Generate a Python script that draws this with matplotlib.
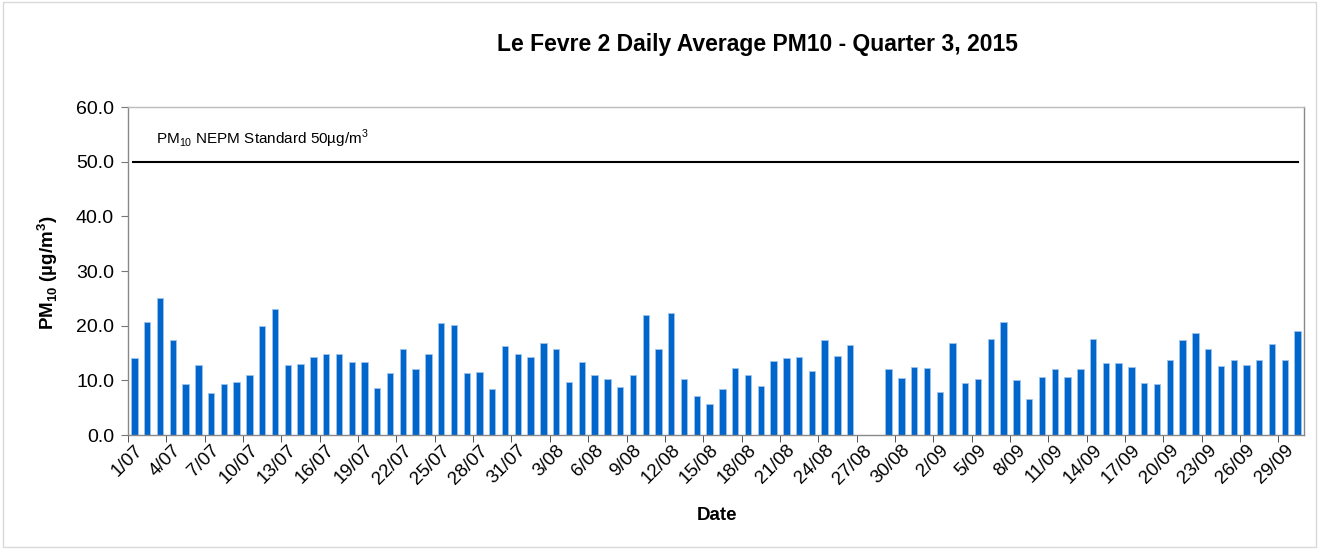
import numpy as np
import pandas as pd
import matplotlib
matplotlib.use("Agg")
import matplotlib.pyplot as plt
from matplotlib.patches import Rectangle

plt.rcParams["font.family"] = ["Liberation Sans", "DejaVu Sans"]
plt.rcParams["mathtext.fontset"] = "custom"
plt.rcParams["mathtext.rm"] = "Liberation Sans"
plt.rcParams["mathtext.bf"] = "Liberation Sans:bold"

# daily dates for quarter 3, 2015
fechas = pd.date_range("2015-07-01", "2015-09-30", freq="D")
etiquetas = [f"{d.day}/{d.month:02d}" for d in fechas]

# daily average PM10 (ug/m3), nan = no data
pm10 = [14.1, 20.7, 25.1, 17.3, 9.4, 12.8, 7.6, 9.3, 9.7, 11.0,
        19.9, 23.0, 12.8, 13.0, 14.3, 14.9, 14.9, 13.3, 13.3, 8.6,
        11.3, 15.7, 12.0, 14.8, 20.4, 20.2, 11.3, 11.5, 8.4, 16.3,
        14.8, 14.3, 16.8, 15.8, 9.7, 13.4, 10.9, 10.2, 8.8, 11.0,
        21.9, 15.7, 22.4, 10.2, 7.1, 5.7, 8.4, 12.3, 10.9, 9.0,
        13.5, 14.0, 14.2, 11.7, 17.3, 14.5, 16.5, np.nan, np.nan, 12.0,
        10.4, 12.4, 12.2, 7.9, 16.8, 9.6, 10.2, 17.6, 20.7, 10.1,
        6.5, 10.7, 12.1, 10.7, 12.1, 17.6, 13.2, 13.2, 12.4, 9.6,
        9.4, 13.8, 17.4, 18.6, 15.8, 12.7, 13.7, 12.8, 13.8, 16.6,
        13.8, 19.0]
estandar = 50

fig = plt.figure(figsize=(13.21, 5.49), dpi=100)
ax = fig.add_axes([128 / 1321, 1 - 435 / 549, 1176 / 1321, 328 / 549])

x = np.arange(len(etiquetas))
ax.bar(x, pm10, width=0.5, color="#0066CC", edgecolor="#9DC3EA", linewidth=0.6)
ax.axhline(estandar, xmin=0.004, xmax=0.995, color="black", linewidth=1.5)
ax.text(1.7, 53.3, r"PM$_{10}$ NEPM Standard 50µg/m$^{3}$", fontsize=11)

ax.set_xlim(-0.5, len(etiquetas) - 0.5)
ax.set_ylim(0, 60)
ax.set_yticks(np.arange(0, 61, 10))
ax.set_yticklabels([f"{v:.1f}" for v in np.arange(0, 61, 10)], fontsize=14)

ax.set_xticks(x[::3])
ax.set_xticklabels(etiquetas[::3], rotation=45, ha="right", rotation_mode="anchor", fontsize=13.5)
ax.tick_params(axis="x", which="major", length=0, pad=5)
ax.set_xticks(np.arange(-0.5, len(etiquetas), 3), minor=True)
ax.tick_params(axis="x", which="minor", length=5, color="#333333")
ax.tick_params(axis="y", length=5, color="#777777", pad=5)

for s in ax.spines.values():
    s.set_color("#888888")
    s.set_linewidth(1.0)
ax.spines["top"].set_color("#BBBBBB")

fig.text(757 / 1321, 1 - 45 / 549, "Le Fevre 2 Daily Average PM10 - Quarter 3, 2015",
         ha="center", va="center", fontsize=16.5, fontweight="bold")
fig.text(717 / 1321, 1 - 515 / 549, "Date", ha="center", va="center",
         fontsize=13.5, fontweight="bold")
fig.text(48 / 1321, 1 - 273 / 549, r"PM$_\mathbf{10}$ (µg/m$^\mathbf{3}$)", ha="center", va="center",
         rotation=90, fontsize=13.5, fontweight="bold")

fig.patches.append(Rectangle((0.002, 0.003), 0.994, 0.994, transform=fig.transFigure,
                             fill=False, edgecolor="#D9D9D9", linewidth=1))

fig.savefig("out.png", dpi=100)
